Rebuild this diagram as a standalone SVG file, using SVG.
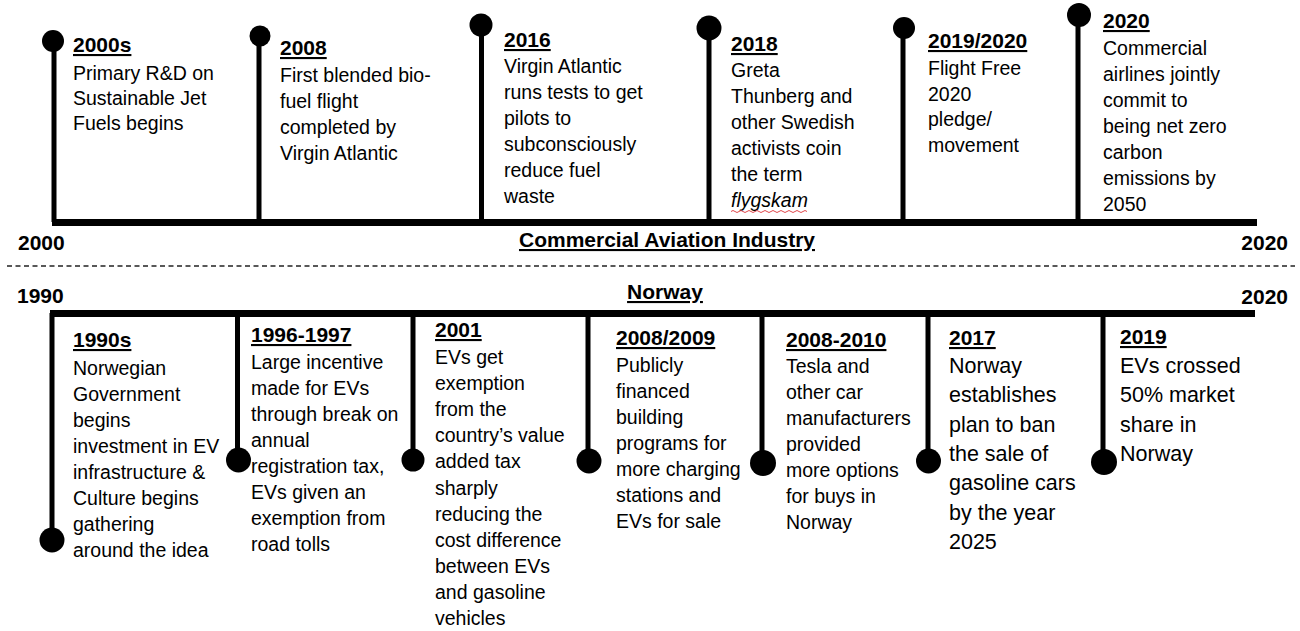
<svg xmlns="http://www.w3.org/2000/svg" width="1300" height="631" viewBox="0 0 1300 631">
  <style>
    text { font-family: "Liberation Sans", Arial, sans-serif; fill: #000; }
    .h { font-size: 21px; font-weight: bold; text-decoration: underline; }
    .b { font-size: 19.5px; }
    .bl { font-size: 21.5px; }
    .ax { font-size: 21px; font-weight: bold; }
    .bar { fill: #000; }
    .stem { stroke: #000; stroke-width: 5; }
    .dot { fill: #000; }
    .sep { stroke: #222; stroke-width: 1.4; stroke-dasharray: 5 3.5; }
    .squiggle { fill: none; stroke: #e0474c; stroke-width: 1; }
  </style>
  <rect width="1300" height="631" fill="#fff"/>

  <!-- Timeline axes and separator -->
  <g id="connectors">
    <rect class="bar" x="52" y="219" width="1205" height="7"/>
    <rect class="bar" x="50" y="310" width="1205" height="7"/>
    <line class="sep" x1="7" y1="266" x2="1295" y2="266"/>
    <!-- top stems -->
    <line class="stem" x1="54" y1="41" x2="54" y2="222"/>
    <line class="stem" x1="259" y1="36" x2="259" y2="222"/>
    <line class="stem" x1="481.5" y1="25" x2="481.5" y2="222"/>
    <line class="stem" x1="709" y1="28" x2="709" y2="222"/>
    <line class="stem" x1="903" y1="28" x2="903" y2="222"/>
    <line class="stem" x1="1078" y1="15" x2="1078" y2="222"/>
    <!-- bottom stems -->
    <line class="stem" x1="52" y1="313" x2="52" y2="540"/>
    <line class="stem" x1="237.5" y1="313" x2="237.5" y2="460"/>
    <line class="stem" x1="413" y1="313" x2="413" y2="460"/>
    <line class="stem" x1="588" y1="313" x2="588" y2="461"/>
    <line class="stem" x1="762" y1="313" x2="762" y2="463"/>
    <line class="stem" x1="928" y1="313" x2="928" y2="461"/>
    <line class="stem" x1="1103" y1="313" x2="1103" y2="462"/>
  </g>

  <!-- Axis labels -->
  <g id="axis-labels">
    <text class="ax" x="18" y="250">2000</text>
    <text class="ax" x="1288" y="250" text-anchor="end">2020</text>
    <text class="ax" x="667" y="247" text-anchor="middle" text-decoration="underline">Commercial Aviation Industry</text>
    <text class="ax" x="17" y="303">1990</text>
    <text class="ax" x="1288" y="304" text-anchor="end">2020</text>
    <text class="ax" x="665" y="299" text-anchor="middle" text-decoration="underline">Norway</text>
  </g>

  <!-- Commercial aviation events -->
  <g id="av-2000s">
    <circle class="dot" cx="53" cy="41" r="11"/>
    <text class="h" x="73" y="52">2000s</text>
    <text class="b" x="73" y="80">Primary R&amp;D on<tspan x="73" dy="25">Sustainable Jet</tspan><tspan x="73" dy="25">Fuels begins</tspan></text>
  </g>
  <g id="av-2008">
    <circle class="dot" cx="260" cy="36" r="10.5"/>
    <text class="h" x="280" y="55">2008</text>
    <text class="b" x="280" y="82">First blended bio-<tspan x="280" dy="26">fuel flight</tspan><tspan x="280" dy="26">completed by</tspan><tspan x="280" dy="26">Virgin Atlantic</tspan></text>
  </g>
  <g id="av-2016">
    <circle class="dot" cx="481" cy="25" r="11.5"/>
    <text class="h" x="504" y="47">2016</text>
    <text class="b" x="504" y="73">Virgin Atlantic<tspan x="504" dy="26">runs tests to get</tspan><tspan x="504" dy="26">pilots to</tspan><tspan x="504" dy="26">subconsciously</tspan><tspan x="504" dy="26">reduce fuel</tspan><tspan x="504" dy="26">waste</tspan></text>
  </g>
  <g id="av-2018">
    <circle class="dot" cx="709" cy="28" r="12.5"/>
    <text class="h" x="731" y="51">2018</text>
    <text class="b" x="731" y="77">Greta<tspan x="731" dy="26">Thunberg and</tspan><tspan x="731" dy="26">other Swedish</tspan><tspan x="731" dy="26">activists coin</tspan><tspan x="731" dy="26">the term</tspan><tspan x="731" dy="26" font-style="italic">flygskam</tspan></text>
    <path class="squiggle" d="M731 211.5 q2 -2 4 0 t4 0 t4 0 t4 0 t4 0 t4 0 t4 0 t4 0 t4 0 t4 0 t4 0 t4 0 t4 0 t4 0 t4 0 t4 0 t4 0 t4 0 t4 0"/>
  </g>
  <g id="av-2019-2020">
    <circle class="dot" cx="904" cy="28" r="11"/>
    <text class="h" x="928" y="48">2019/2020</text>
    <text class="b" x="928" y="75">Flight Free<tspan x="928" dy="25.7">2020</tspan><tspan x="928" dy="25.7">pledge/</tspan><tspan x="928" dy="25.7">movement</tspan></text>
  </g>
  <g id="av-2020">
    <circle class="dot" cx="1079" cy="15" r="12"/>
    <text class="h" x="1103" y="28">2020</text>
    <text class="b" x="1103" y="55">Commercial<tspan x="1103" dy="26">airlines jointly</tspan><tspan x="1103" dy="26">commit to</tspan><tspan x="1103" dy="26">being net zero</tspan><tspan x="1103" dy="26">carbon</tspan><tspan x="1103" dy="26">emissions by</tspan><tspan x="1103" dy="26">2050</tspan></text>
  </g>

  <!-- Norway events -->
  <g id="no-1990s">
    <circle class="dot" cx="52" cy="540" r="12.5"/>
    <text class="h" x="73" y="347">1990s</text>
    <text class="b" x="73" y="375">Norwegian<tspan x="73" dy="26">Government</tspan><tspan x="73" dy="26">begins</tspan><tspan x="73" dy="26">investment in EV</tspan><tspan x="73" dy="26">infrastructure &amp;</tspan><tspan x="73" dy="26">Culture begins</tspan><tspan x="73" dy="26">gathering</tspan><tspan x="73" dy="26">around the idea</tspan></text>
  </g>
  <g id="no-1996-1997">
    <circle class="dot" cx="238.5" cy="460" r="12.5"/>
    <text class="h" x="251" y="342">1996-1997</text>
    <text class="b" x="251" y="369">Large incentive<tspan x="251" dy="26">made for EVs</tspan><tspan x="251" dy="26">through break on</tspan><tspan x="251" dy="26">annual</tspan><tspan x="251" dy="26">registration tax,</tspan><tspan x="251" dy="26">EVs given an</tspan><tspan x="251" dy="26">exemption from</tspan><tspan x="251" dy="26">road tolls</tspan></text>
  </g>
  <g id="no-2001">
    <circle class="dot" cx="413" cy="460" r="11.5"/>
    <text class="h" x="435" y="337">2001</text>
    <text class="b" x="435" y="364">EVs get<tspan x="435" dy="26.1">exemption</tspan><tspan x="435" dy="26.1">from the</tspan><tspan x="435" dy="26.1">country’s value</tspan><tspan x="435" dy="26.1">added tax</tspan><tspan x="435" dy="26.1">sharply</tspan><tspan x="435" dy="26.1">reducing the</tspan><tspan x="435" dy="26.1">cost difference</tspan><tspan x="435" dy="26.1">between EVs</tspan><tspan x="435" dy="26.1">and gasoline</tspan><tspan x="435" dy="26.1">vehicles</tspan></text>
  </g>
  <g id="no-2008-2009">
    <circle class="dot" cx="589" cy="461" r="12.5"/>
    <text class="h" x="616" y="345">2008/2009</text>
    <text class="b" x="616" y="372">Publicly<tspan x="616" dy="26">financed</tspan><tspan x="616" dy="26">building</tspan><tspan x="616" dy="26">programs for</tspan><tspan x="616" dy="26">more charging</tspan><tspan x="616" dy="26">stations and</tspan><tspan x="616" dy="26">EVs for sale</tspan></text>
  </g>
  <g id="no-2008-2010">
    <circle class="dot" cx="763" cy="463" r="13"/>
    <text class="h" x="786" y="347">2008-2010</text>
    <text class="b" x="786" y="373">Tesla and<tspan x="786" dy="26">other car</tspan><tspan x="786" dy="26">manufacturers</tspan><tspan x="786" dy="26">provided</tspan><tspan x="786" dy="26">more options</tspan><tspan x="786" dy="26">for buys in</tspan><tspan x="786" dy="26">Norway</tspan></text>
  </g>
  <g id="no-2017">
    <circle class="dot" cx="928.5" cy="461" r="12.5"/>
    <text class="h" x="949" y="345">2017</text>
    <text class="bl" x="949" y="373">Norway<tspan x="949" dy="29.3">establishes</tspan><tspan x="949" dy="29.3">plan to ban</tspan><tspan x="949" dy="29.3">the sale of</tspan><tspan x="949" dy="29.3">gasoline cars</tspan><tspan x="949" dy="29.3">by the year</tspan><tspan x="949" dy="29.3">2025</tspan></text>
  </g>
  <g id="no-2019">
    <circle class="dot" cx="1104" cy="462" r="13"/>
    <text class="h" x="1120" y="344">2019</text>
    <text class="bl" x="1120" y="373">EVs crossed<tspan x="1120" dy="29.3">50% market</tspan><tspan x="1120" dy="29.3">share in</tspan><tspan x="1120" dy="29.3">Norway</tspan></text>
  </g>
</svg>
